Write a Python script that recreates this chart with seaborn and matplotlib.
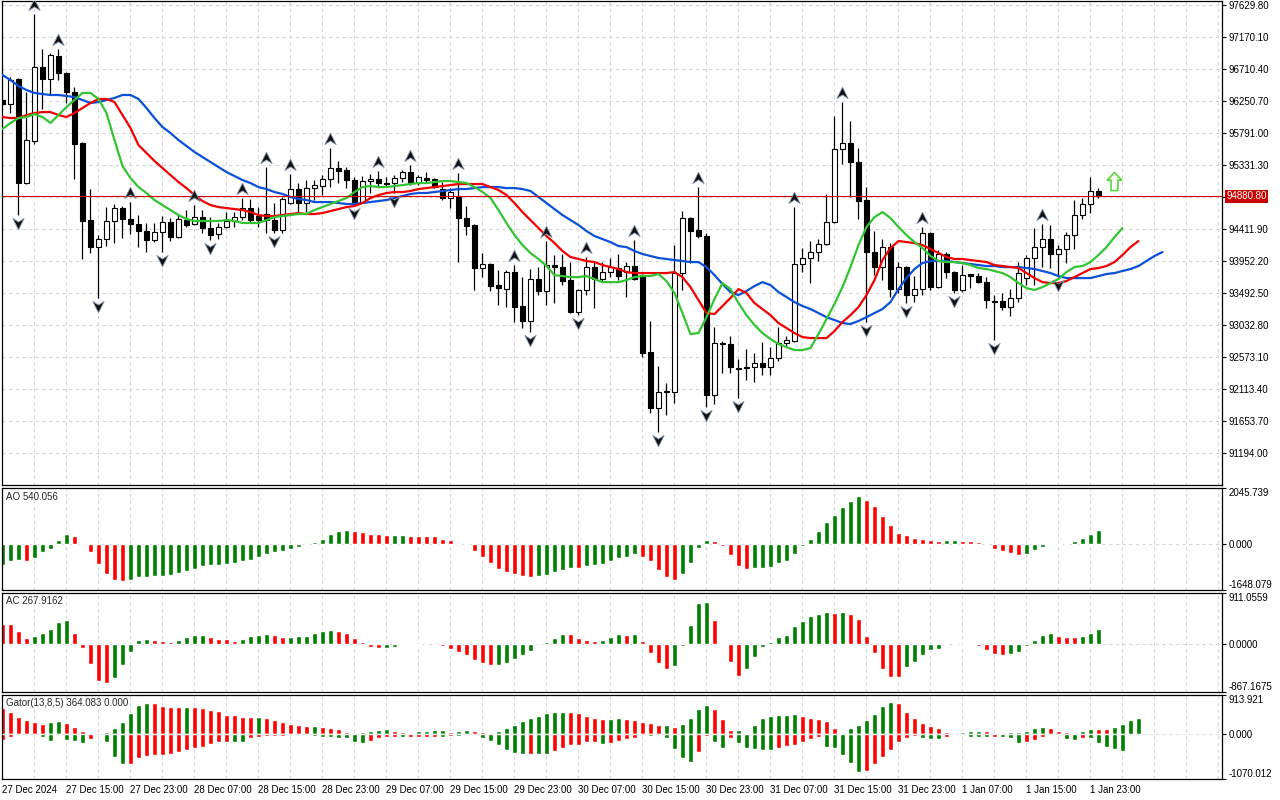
import numpy as np
import pandas as pd
import matplotlib
matplotlib.use("Agg")
import matplotlib.pyplot as plt
from matplotlib.path import Path
from matplotlib import transforms
import seaborn as sns

# BTCUSD H1, 27 Dec 07:00 .. 2 Jan 00:00
opens = [96265, 96208, 96567, 95072, 95676, 96739, 96567, 96898, 96653, 96380,
         95647, 94541, 94152, 94268, 94527, 94713, 94555, 94484, 94383, 94253,
         94368, 94512, 94296, 94541, 94484, 94583, 94426, 94340, 94440, 94527,
         94583, 94713, 94598, 94627, 94541, 94397, 94785, 94986, 94785, 95000,
         95029, 95130, 95288, 95259, 95115, 94799, 95101, 95130, 95072, 95072,
         95144, 95230, 95072, 95144, 95130, 94986, 94857, 94871, 94569, 94469,
         93851, 93909, 93606, 93549, 93793, 93305, 93090, 93693, 93521, 93894,
         93865, 93678, 93218, 93535, 93865, 93693, 93793, 93851, 93793, 93880,
         93750, 92644, 91839, 92069, 92069, 93779, 94569, 94397, 94311, 92026,
         92759, 92759, 92414, 92428, 92428, 92486, 92428, 92558, 92773, 92802,
         93909, 93995, 94081, 94196, 94512, 95561, 95647, 95374, 94828, 94081,
         93865, 94152, 93549, 93865, 93463, 93549, 94354, 93577, 94053, 93793,
         93535, 93765, 93736, 93649, 93377, 93377, 93290, 93420, 93707, 93995,
         94152, 94268, 94053, 94124, 94325, 94612, 94771, 94958]
highs = [96308, 96595, 96581, 96380, 97501, 96998, 96941, 96998, 96667, 96451,
         95660, 94986, 94325, 94727, 94771, 94742, 94799, 94612, 94498, 94498,
         94598, 94569, 94612, 94684, 94756, 94684, 94583, 94498, 94655, 94655,
         94857, 94843, 94727, 95302, 94785, 94871, 95202, 95072, 95115, 95115,
         95187, 95575, 95389, 95302, 95158, 95173, 95202, 95245, 95158, 95187,
         95259, 95331, 95187, 95230, 95144, 95086, 95000, 95216, 94742, 94484,
         94067, 93923, 93822, 93822, 93894, 93721, 93837, 93865, 94239, 94038,
         94053, 93937, 93549, 94009, 93937, 93937, 93995, 94053, 93937, 94253,
         93765, 93090, 92443, 92198, 94181, 94670, 94583, 95014, 94354, 93003,
         92802, 92874, 92544, 92687, 92630, 92787, 92715, 93003, 92874, 94727,
         94138, 94239, 94268, 94915, 96035, 96236, 95964, 95575, 95014, 94383,
         94268, 94210, 93937, 93880, 93736, 94440, 94368, 94110, 94081, 93808,
         93894, 93770, 93779, 93721, 93463, 93492, 93549, 93937, 94038, 94426,
         94484, 94469, 94181, 94368, 94828, 94857, 95158, 95000]
lows = [96179, 96078, 94612, 95058, 95633, 96136, 96352, 96552, 96222, 95130,
        93981, 94067, 93420, 94167, 94210, 94282, 94340, 94152, 94081, 94224,
        94081, 94239, 94282, 94440, 94469, 94354, 94253, 94268, 94426, 94440,
        94541, 94498, 94440, 94354, 94354, 94354, 94771, 94655, 94655, 94828,
        94900, 95014, 95072, 95000, 94756, 94785, 94929, 95014, 95014, 94929,
        95086, 95043, 95043, 95072, 95000, 94828, 94713, 93937, 94325, 93535,
        93721, 93521, 93319, 93290, 93075, 92989, 92931, 93463, 93319, 93348,
        93606, 93204, 93175, 93463, 93276, 93649, 93721, 93678, 93434, 93678,
        92572, 91767, 91494, 91738, 91911, 93535, 93923, 94282, 91853, 91897,
        92342, 92342, 91983, 92241, 92212, 92313, 92313, 92515, 92715, 92787,
        93793, 93635, 93952, 94181, 94498, 95346, 94871, 94555, 93075, 93750,
        93678, 93434, 93492, 93348, 93362, 93463, 93535, 93563, 93707, 93492,
        93506, 93563, 93635, 93276, 92816, 93247, 93161, 93362, 93606, 93606,
        93865, 93851, 93720, 93923, 94124, 94555, 94641, 94857]
closes = [96208, 96552, 95072, 95690, 96739, 96567, 96912, 96653, 96380, 95633,
          94527, 94152, 94268, 94527, 94713, 94555, 94484, 94383, 94253, 94368,
          94512, 94296, 94555, 94469, 94583, 94426, 94325, 94440, 94527, 94583,
          94713, 94541, 94541, 94541, 94397, 94843, 94986, 94785, 95000, 95043,
          95130, 95288, 95245, 95115, 94799, 95101, 95130, 95072, 95065, 95144,
          95230, 95072, 95158, 95115, 95014, 94857, 94943, 94569, 94455, 93851,
          93909, 93592, 93563, 93793, 93290, 93090, 93693, 93521, 93894, 93865,
          93664, 93218, 93535, 93865, 93693, 93793, 93865, 93736, 93880, 93693,
          92630, 91839, 92069, 92084, 93779, 94569, 94383, 94311, 92026, 92773,
          92773, 92428, 92405, 92414, 92486, 92428, 92558, 92773, 92816, 93909,
          93995, 94081, 94196, 94512, 95561, 95647, 95374, 94814, 94081, 93865,
          94152, 93549, 93865, 93463, 93549, 94354, 93577, 94053, 93793, 93535,
          93750, 93736, 93649, 93391, 93370, 93290, 93420, 93779, 93995, 94152,
          94268, 94053, 94124, 94325, 94612, 94771, 94958, 94880.8]

# Alligator (13,8,5) - lines already shifted forward as on the chart
jaw = [96624, 96552, 96466, 96409, 96366, 96352, 96337, 96337, 96323, 96308,
       96265, 96222, 96236, 96265, 96294, 96337, 96337, 96280, 96150, 96006,
       95877, 95791, 95690, 95604, 95518, 95446, 95374, 95302, 95230, 95173,
       95115, 95072, 95014, 94986, 94943, 94915, 94871, 94843, 94828, 94799,
       94799, 94799, 94785, 94771, 94771, 94785, 94799, 94814, 94828, 94857,
       94886, 94915, 94929, 94929, 94943, 94958, 94972, 94986, 94986, 95000,
       95014, 95014, 95014, 95000, 95000, 94986, 94958, 94871, 94785, 94698,
       94612, 94541, 94469, 94383, 94311, 94268, 94224, 94167, 94152, 94096,
       94053, 94024, 93995, 93981, 93966, 93952, 93937, 93937, 93865, 93750,
       93621, 93506, 93463, 93521, 93592, 93649, 93606, 93506, 93434, 93362,
       93305, 93262, 93204, 93146, 93104, 93061, 93047, 93090, 93146, 93204,
       93262, 93362, 93549, 93707, 93837, 93923, 93952, 93952, 93952, 93937,
       93923, 93909, 93894, 93880, 93880, 93865, 93865, 93865, 93851, 93837,
       93808, 93779, 93736, 93707, 93707, 93707, 93707, 93736, 93765, 93779,
       93808, 93837, 93880, 93952, 94024, 94081]
teeth = [96020, 96006, 96006, 96049, 96078, 96092, 96092, 96049, 96020, 96078,
         96150, 96222, 96280, 96280, 96236, 96049, 95863, 95618, 95504, 95389,
         95288, 95187, 95086, 95000, 94900, 94814, 94756, 94727, 94713, 94698,
         94684, 94655, 94612, 94598, 94598, 94612, 94627, 94641, 94627, 94627,
         94641, 94670, 94698, 94727, 94742, 94785, 94857, 94900, 94929, 94943,
         94943, 94958, 94986, 95000, 95014, 95029, 95043, 95058, 95058, 95058,
         95058, 95014, 94972, 94900, 94785, 94655, 94541, 94426, 94311, 94210,
         94096, 94010, 93981, 93952, 93937, 93894, 93865, 93837, 93793, 93779,
         93779, 93779, 93779, 93779, 93793, 93721, 93577, 93391, 93204, 93190,
         93305, 93420, 93549, 93492, 93348, 93262, 93175, 93061, 92989, 92917,
         92859, 92845, 92845, 92845, 92946, 93075, 93175, 93290, 93463, 93678,
         93966, 94138, 94239, 94224, 94210, 94181, 94124, 94067, 94010, 93981,
         93981, 93966, 93952, 93937, 93894, 93880, 93865, 93851, 93779, 93707,
         93649, 93635, 93635, 93664, 93721, 93779, 93837, 93851, 93880, 93937,
         94038, 94152, 94239]
lips = [95849, 95935, 96006, 96020, 96063, 96020, 95935, 96049, 96164, 96265,
        96366, 96366, 96280, 96078, 95690, 95317, 95144, 95014, 94929, 94828,
        94756, 94684, 94612, 94555, 94527, 94527, 94527, 94527, 94541, 94527,
        94498, 94498, 94498, 94541, 94583, 94598, 94612, 94627, 94627, 94684,
        94727, 94771, 94814, 94857, 94943, 95014, 95029, 95014, 95014, 95029,
        95043, 95058, 95072, 95072, 95086, 95101, 95101, 95086, 95072, 95014,
        94943, 94857, 94684, 94498, 94325, 94181, 94067, 93981, 93880, 93750,
        93736, 93721, 93721, 93736, 93693, 93649, 93649, 93649, 93678, 93721,
        93736, 93736, 93765, 93664, 93492, 93204, 92903, 92917, 93146, 93405,
        93635, 93549, 93348, 93175, 93032, 92917, 92831, 92759, 92715, 92673,
        92673, 92701, 92903, 93118, 93334, 93577, 93865, 94181, 94440, 94583,
        94655, 94569, 94440, 94325, 94224, 94138, 94024, 93952, 93937, 93937,
        93923, 93894, 93851, 93837, 93808, 93779, 93721, 93635, 93563, 93535,
        93577, 93635, 93693, 93793, 93865, 93880, 93937, 94038, 94152, 94296,
        94426]

fractal_up_bars = [4, 7, 16, 24, 30, 33, 36, 41, 47, 51, 57, 64, 68, 73, 79, 87, 99, 105, 115, 130]
fractal_dn_bars = [2, 12, 20, 26, 34, 44, 49, 66, 72, 82, 88, 92, 108, 113, 119, 124, 132]
signal_bar = 139
signal_price = 95101
bid_price = 94880.80

ao = [-760, -580, -575, -585, -483, -278, -157, 145, 362, 290,
      48, -278, -724, -1086, -1279, -1328, -1304, -1170, -1160, -1150,
      -1140, -1110, -1038, -966, -881, -797, -760, -750, -724, -676,
      -604, -555, -435, -338, -278, -241, -157, -97, -24, 84,
      205, 362, 483, 507, 500, 447, 386, 362, 326, 330,
      334, 325, 302, 295, 290, 205, 145, 48, -36, -241,
      -459, -676, -881, -1002, -1086, -1159, -1183, -1159, -1098, -1002,
      -917, -845, -860, -797, -760, -700, -604, -483, -435, -362,
      -435, -604, -941, -1183, -1304, -1086, -676, -121, 145, 109,
      -72, -398, -797, -905, -857, -845, -821, -676, -604, -362,
      -48, 181, 471, 797, 1050, 1352, 1593, 1738, 1629, 1376,
      1014, 688, 410, 326, 229, 181, 145, 109, 145, 150,
      140, 109, 85, 24, -181, -241, -314, -398, -338, -217,
      -97, -36, -12, 60, 121, 241, 362, 540.056]
ac = [358, 352, 223, 106, 135, 200, 258, 399, 434, 200,
      -82, -364, -669, -698, -622, -387, -141, 64, 82, 64,
      41, 29, 64, 123, 153, 160, 123, 82, 76, 47,
      82, 135, 153, 182, 153, 123, 125, 135, 140, 194,
      223, 241, 235, 194, 100, 23, -64, -82, -80, -53,
      -18, -10, -15, -20, -29, -41, -88, -141, -211, -288,
      -346, -387, -375, -346, -270, -200, -123, -10, 35, 100,
      170, 168, 106, 64, 53, 60, 123, 182, 164, 170,
      41, -164, -352, -458, -393, -41, 340, 728, 745, 428,
      12, -323, -587, -458, -235, -64, 23, 117, 158, 311,
      417, 499, 540, 569, 558, 570, 528, 440, 147, -164,
      -458, -599, -605, -423, -323, -194, -106, -88, -12, 18,
      -6, -10, -41, -111, -188, -194, -176, -147, -41, 70,
      158, 194, 147, 129, 117, 141, 188, 267.9162]
gator_up = [598, 510, 400, 330, 283, 240, 280, 300, 250, 150,
            60, 10, 25, 40, 126, 283, 480, 677, 732, 722,
            653, 637, 630, 637, 622, 598, 559, 543, 441, 433,
            401, 394, 401, 362, 323, 283, 228, 205, 181, 189,
            150, 126, 102, 47, 24, 47, 71, 87, 110, 71,
            31, 24, 63, 71, 79, 87, 47, 71, 79, 71,
            31, 24, 71, 126, 205, 307, 378, 417, 480, 504,
            519, 504, 480, 417, 378, 346, 354, 362, 346, 323,
            268, 244, 205, 210, 150, 230, 362, 575, 677, 582,
            338, 87, 90, 8, 205, 362, 417, 441, 445, 456,
            417, 378, 354, 307, 126, 8, 126, 205, 323, 464,
            653, 755, 732, 519, 362, 244, 181, 126, 47, 8,
            31, 63, 65, 63, 8, 5, 31, 33, 63, 126,
            150, 126, 71, 47, 8, 71, 110, 108, 105, 150,
            220, 323, 364.083]
gator_dn = [-150, -71, -8, -31, -14, -71, -165, -8, -150, -165,
            -212, -134, -8, -189, -543, -716, -710, -582, -527, -504,
            -500, -480, -425, -386, -346, -307, -244, -189, -185, -190,
            -195, -110, -87, -55, -47, -47, -31, -8, -31, -55,
            -87, -88, -90, -110, -189, -212, -165, -110, -87, -71,
            -87, -86, -71, -70, -69, -71, -47, -48, -31, -16,
            -110, -165, -275, -380, -464, -480, -478, -482, -488, -400,
            -346, -275, -270, -200, -185, -255, -210, -170, -130, -100,
            -31, -47, -8, -110, -370, -582, -661, -425, -55, -189,
            -331, -110, -228, -331, -370, -375, -386, -331, -283, -268,
            -189, -126, -71, -307, -346, -504, -700, -897, -874, -716,
            -559, -386, -189, -110, -55, -94, -126, -134, -71, -8,
            -31, -71, -75, -87, -85, -87, -110, -212, -205, -150,
            -71, -8, -31, -126, -150, -110, -112, -212, -307, -370,
            -401]

time_labels = ["27 Dec 2024", "27 Dec 15:00", "27 Dec 23:00", "28 Dec 07:00", "28 Dec 15:00",
               "28 Dec 23:00", "29 Dec 07:00", "29 Dec 15:00", "29 Dec 23:00", "30 Dec 07:00",
               "30 Dec 15:00", "30 Dec 23:00", "31 Dec 07:00", "31 Dec 15:00", "31 Dec 23:00",
               "1 Jan 07:00", "1 Jan 15:00", "1 Jan 23:00"]
price_ticks = [91194.00, 91653.70, 92113.40, 92573.10, 93032.80, 93492.50, 93952.20, 94411.90,
               94871.60, 95331.30, 95791.00, 96250.70, 96710.40, 97170.10, 97629.80]

# colours
GREEN_IND = "#008000"
RED_IND = "#ff0000"
GRID_C = "#d6d6d6"
JAW_C = "#0a50d8"
TEETH_C = "#f00000"
LIPS_C = "#33c433"

sns.set_style("white")
plt.rcParams["font.family"] = ["Liberation Sans", "DejaVu Sans"]
plt.rcParams["font.size"] = 7

W, H = 1280, 800
fig = plt.figure(figsize=(12.8, 8), dpi=100)
fig.patch.set_facecolor("white")


def pane(top, bottom):
    return fig.add_axes([2 / W, (H - bottom) / H, 1220 / W, (bottom - top) / H])


ax = pane(1, 485)
ax_ao = pane(488, 590)
ax_ac = pane(593, 692)
ax_gt = pane(695, 779)
axes = [ax, ax_ao, ax_ac, ax_gt]

XMIN, XMAX = -0.06, 152.44
grid_bars = np.arange(0, 153, 4)
dash = (0, (3, 3))
for a in axes:
    a.set_xlim(XMIN, XMAX)
    a.set_facecolor("white")
    for s in a.spines.values():
        s.set_color("black")
        s.set_linewidth(0.9)
    for gb in grid_bars:
        a.axvline(gb, color=GRID_C, lw=0.8, ls=dash, zorder=0)
    a.yaxis.tick_right()
    a.tick_params(axis="y", direction="out", length=3, width=0.8, pad=2,
                  labelsize=7, colors="black")
    a.tick_params(axis="x", length=0, labelbottom=False)

# ---- main price pane ----
ax.set_ylim(90734.3, 97687.3)
for p in price_ticks:
    ax.axhline(p, color=GRID_C, lw=0.8, ls=dash, zorder=0)

bars = np.arange(len(closes))
o = np.array(opens, float)
c = np.array(closes, float)
hi = np.array(highs, float)
lo = np.array(lows, float)
ax.vlines(bars, lo, hi, color="black", lw=0.9, zorder=2)
body_low = np.minimum(o, c)
body_h = np.maximum(np.abs(c - o), 6)
body_col = np.where(c >= o, "white", "black")
ax.bar(bars, body_h, bottom=body_low, width=0.62, color=body_col,
       edgecolor="black", linewidth=0.8, zorder=3)

for vals, col in [(jaw, JAW_C), (teeth, TEETH_C), (lips, LIPS_C)]:
    df = pd.DataFrame({"bar": np.arange(len(vals)), "price": vals})
    sns.lineplot(data=df, x="bar", y="price", ax=ax, color=col,
                 linewidth=1.6, zorder=4, legend=False)
ax.set_xlabel("")
ax.set_ylabel("")

ax.axhline(bid_price, color="#d40000", lw=0.8, zorder=5)

up_path = Path([(0, 0.55), (0.5, -0.45), (0, -0.12), (-0.5, -0.45), (0, 0.55)],
               [Path.MOVETO, Path.LINETO, Path.LINETO, Path.LINETO, Path.CLOSEPOLY])
dn_path = Path([(0, -0.55), (0.5, 0.45), (0, 0.12), (-0.5, 0.45), (0, -0.55)],
               [Path.MOVETO, Path.LINETO, Path.LINETO, Path.LINETO, Path.CLOSEPOLY])
up_tr = transforms.offset_copy(ax.transData, fig=fig, x=0, y=9, units="dots")
dn_tr = transforms.offset_copy(ax.transData, fig=fig, x=0, y=-8, units="dots")
ax.scatter(fractal_up_bars, hi[fractal_up_bars], marker=up_path, s=80,
           facecolor="#101010", edgecolor="#7d8fa8", linewidths=0.6,
           transform=up_tr, zorder=6)
ax.scatter(fractal_dn_bars, lo[fractal_dn_bars], marker=dn_path, s=80,
           facecolor="#101010", edgecolor="#7d8fa8", linewidths=0.6,
           transform=dn_tr, zorder=6)

sig_path = Path([(0, 1), (0.8, 0.15), (0.38, 0.15), (0.38, -1), (-0.38, -1),
                 (-0.38, 0.15), (-0.8, 0.15), (0, 1)],
                [Path.MOVETO] + [Path.LINETO] * 6 + [Path.CLOSEPOLY])
ax.scatter([signal_bar], [signal_price], marker=sig_path, s=170,
           facecolor="white", edgecolor="#55d83a", linewidths=1.2, zorder=6)

ax.set_yticks(price_ticks)
ax.set_yticklabels(["" if abs(p - 94871.60) < 1 else f"{p:.2f}" for p in price_ticks])
bt = transforms.blended_transform_factory(ax.transAxes, ax.transData)
ax.text(1.0035, bid_price, f"{bid_price:.2f}", transform=bt, ha="left", va="center",
        color="white", fontsize=7, zorder=10,
        bbox=dict(boxstyle="square,pad=0.18", fc="#c80000", ec="none"))


# ---- indicator panes ----
def colours(vals, first, absolute=False):
    v = np.abs(vals) if absolute else np.asarray(vals)
    cols = [first]
    for i in range(1, len(v)):
        cols.append(GREEN_IND if v[i] > v[i - 1] else RED_IND)
    return cols


def indicator(a, lo_lim, hi_lim, fmt, title):
    a.set_ylim(lo_lim, hi_lim)
    a.set_yticks([lo_lim, 0, hi_lim])
    a.set_yticklabels([fmt.format(lo_lim), fmt.format(0), fmt.format(hi_lim)])
    labs = a.get_yticklabels()
    labs[0].set_va("bottom")
    labs[-1].set_va("top")
    a.text(0.003, 0.965, title, transform=a.transAxes, ha="left", va="top", fontsize=7)


ax_ao.axhline(0, color=GRID_C, lw=0.8, ls=dash, zorder=0)
ax_ao.bar(np.arange(len(ao)), ao, width=0.55, color=colours(ao, GREEN_IND), zorder=2)
indicator(ax_ao, -1648.079, 2045.739, "{:.3f}", "AO 540.056")

ax_ac.axhline(0, color=GRID_C, lw=0.8, ls=dash, zorder=0)
ax_ac.bar(np.arange(len(ac)), ac, width=0.55, color=colours(ac, RED_IND), zorder=2)
indicator(ax_ac, -867.1675, 911.0559, "{:.4f}", "AC 267.9162")

ax_gt.bar(np.arange(len(gator_up)), gator_up, width=0.55,
          color=colours(gator_up, RED_IND, True), zorder=2)
ax_gt.bar(np.arange(len(gator_dn)), gator_dn, width=0.55,
          color=colours(gator_dn, RED_IND, True), zorder=2)
ax_gt.axhline(0, color="#e4e4e4", lw=0.8, ls=dash, zorder=3)
indicator(ax_gt, -1070.012, 913.921, "{:.3f}", "Gator(13,8,5) 364.083 0.000")

label_bars = np.arange(0, 8 * len(time_labels), 8)
ax_gt.set_xticks(label_bars)
ax_gt.set_xticklabels(time_labels, ha="left")
ax_gt.tick_params(axis="x", direction="out", length=3, width=0.8, pad=1,
                  labelbottom=True, labelsize=7, colors="black")

fig.savefig("out.png", dpi=100, facecolor="white")
